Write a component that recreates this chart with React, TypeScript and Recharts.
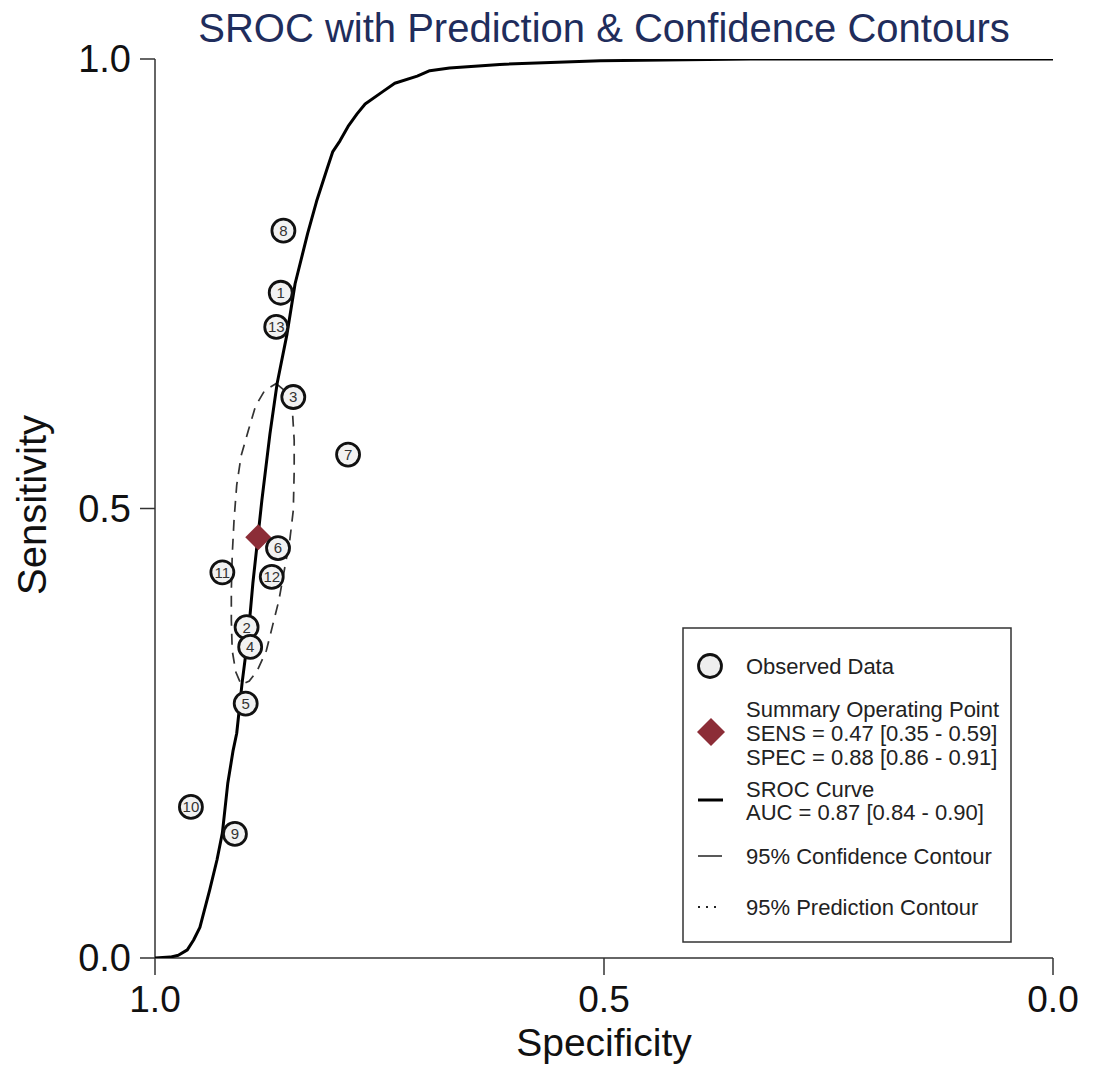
import React from 'react';
import { ScatterChart, Scatter, XAxis, YAxis } from 'recharts';

// ---- data ----
const studyIds = ['1', '2', '3', '4', '5', '6', '7', '8', '9', '10', '11', '12', '13'];
const studySpec = [0.860, 0.898, 0.846, 0.894, 0.899, 0.863, 0.785, 0.857, 0.911, 0.960, 0.925, 0.870, 0.865];
const studySens = [0.740, 0.368, 0.624, 0.346, 0.283, 0.456, 0.560, 0.809, 0.138, 0.168, 0.429, 0.424, 0.702];

const summarySpec = [0.885];
const summarySens = [0.468];

const srocSpec = [1.0, 0.983, 0.974, 0.964, 0.957, 0.950, 0.939, 0.931, 0.925, 0.919, 0.913, 0.909, 0.903, 0.896, 0.891, 0.885, 0.881, 0.872, 0.864, 0.853, 0.844, 0.830, 0.820, 0.808, 0.802, 0.794, 0.785, 0.775, 0.766, 0.746, 0.733, 0.708, 0.694, 0.672, 0.616, 0.504, 0.337, 0.0];
const srocSens = [0.0, 0.001, 0.003, 0.009, 0.020, 0.034, 0.076, 0.109, 0.139, 0.194, 0.231, 0.250, 0.306, 0.361, 0.417, 0.472, 0.509, 0.583, 0.639, 0.694, 0.750, 0.806, 0.842, 0.879, 0.897, 0.909, 0.925, 0.939, 0.950, 0.964, 0.973, 0.981, 0.987, 0.990, 0.994, 0.998, 1.0, 1.0];

const confSpec = [0.865, 0.853, 0.847, 0.845, 0.845, 0.846, 0.850, 0.855, 0.862, 0.869, 0.876, 0.886, 0.895, 0.904, 0.910, 0.914, 0.915, 0.915, 0.914, 0.912, 0.909, 0.904, 0.896, 0.888, 0.878, 0.865];
const confSens = [0.639, 0.629, 0.609, 0.576, 0.542, 0.498, 0.464, 0.437, 0.398, 0.370, 0.342, 0.320, 0.308, 0.304, 0.318, 0.342, 0.376, 0.409, 0.448, 0.487, 0.526, 0.559, 0.587, 0.614, 0.631, 0.639];

const xTicks = [1.0, 0.5, 0.0];
const yTicks = [0.0, 0.5, 1.0];

const titleText = 'SROC with Prediction & Confidence Contours';
const xTitle = 'Specificity';
const yTitle = 'Sensitivity';
const legendLines = {
  observed: 'Observed Data',
  summary: ['Summary Operating Point', 'SENS = 0.47 [0.35 - 0.59]', 'SPEC = 0.88 [0.86 - 0.91]'],
  sroc: ['SROC Curve', 'AUC = 0.87 [0.84 - 0.90]'],
  conf: '95% Confidence Contour',
  pred: '95% Prediction Contour',
};

// ---- tables built from the arrays ----
const studies = studyIds.map((id, i) => ({ id, spec: studySpec[i], sens: studySens[i] }));
const summary = summarySpec.map((s, i) => ({ spec: s, sens: summarySens[i] }));
const sroc = srocSpec.map((s, i) => ({ spec: s, sens: srocSens[i] }));
const conf = confSpec.map((s, i) => ({ spec: s, sens: confSens[i] }));

const FONT = '"Liberation Sans", Arial, sans-serif';
const AXIS = '#333';
const MAROON = '#8c2d37';

const Empty = () => <g />;

const StudyShape = (props: any) => {
  const { cx, cy, payload } = props;
  return (
    <g>
      <circle cx={cx} cy={cy} r={11.5} fill="#f2f2f2" stroke="#111" strokeWidth={2.8} />
      <text x={cx} y={cy} dy="0.36em" textAnchor="middle" fontSize={15} fontFamily={FONT} fill="#333">
        {payload.id}
      </text>
    </g>
  );
};

const DiamondShape = (props: any) => {
  const { cx, cy } = props;
  const h = 13;
  return <polygon points={`${cx},${cy - h} ${cx + h},${cy} ${cx},${cy + h} ${cx - h},${cy}`} fill={MAROON} />;
};

const Overlay = () => {
  const lx = 746;
  const fs = 22;
  return (
    <svg width={1099} height={1065} style={{ position: 'absolute', left: 0, top: 0, pointerEvents: 'none' }}>
      <text x={604} y={42} textAnchor="middle" fontSize={40} fontFamily={FONT} fill="#1f2d5c">{titleText}</text>
      <text x={604} y={1056} textAnchor="middle" fontSize={39} fontFamily={FONT} fill="#111">{xTitle}</text>
      <text x={46} y={505} textAnchor="middle" fontSize={40} fontFamily={FONT} fill="#111" transform="rotate(-90 46 505)">{yTitle}</text>
      <g fontFamily={FONT} fontSize={fs} fill="#222">
        <rect x={683} y={628} width={328} height={314} fill="#fff" stroke={AXIS} strokeWidth={1.5} />
        <circle cx={710} cy={666} r={11.5} fill="#eee" stroke="#111" strokeWidth={2.8} />
        <text x={lx} y={674}>{legendLines.observed}</text>
        <polygon points="711,718 725,732 711,746 697,732" fill={MAROON} />
        <text x={lx} y={717}>{legendLines.summary[0]}</text>
        <text x={lx} y={741}>{legendLines.summary[1]}</text>
        <text x={lx} y={765}>{legendLines.summary[2]}</text>
        <line x1={698} y1={800} x2={723} y2={800} stroke="#000" strokeWidth={3} />
        <text x={lx} y={797}>{legendLines.sroc[0]}</text>
        <text x={lx} y={820}>{legendLines.sroc[1]}</text>
        <line x1={698} y1={856} x2={722} y2={856} stroke="#222" strokeWidth={1.5} />
        <text x={lx} y={864}>{legendLines.conf}</text>
        <line x1={698} y1={907} x2={722} y2={907} stroke="#222" strokeWidth={2} strokeDasharray="2 6" />
        <text x={lx} y={915}>{legendLines.pred}</text>
      </g>
    </svg>
  );
};

export default function App() {
  return (
    <div style={{ position: 'absolute', left: 0, top: 0, width: 1099, height: 1065, background: '#fff' }}>
      <ScatterChart width={1099} height={1065} margin={{ top: 59, right: 46, bottom: 0, left: 0 }}>
        <XAxis
          type="number"
          dataKey="spec"
          domain={[0, 1]}
          reversed
          ticks={xTicks}
          tickFormatter={(v: number) => v.toFixed(1)}
          height={107}
          tickSize={17}
          tickMargin={11}
          stroke={AXIS}
          strokeWidth={1.5}
          tick={{ fontSize: 37, fontFamily: FONT, fill: '#111' }}
          allowDataOverflow
        />
        <YAxis
          type="number"
          dataKey="sens"
          domain={[0, 1]}
          ticks={yTicks}
          tickFormatter={(v: number) => v.toFixed(1)}
          width={155}
          tickSize={15}
          tickMargin={9}
          stroke={AXIS}
          strokeWidth={1.5}
          tick={{ fontSize: 38, fontFamily: FONT, fill: '#111' }}
          allowDataOverflow
        />
        <Scatter
          data={conf}
          shape={Empty}
          line={{ stroke: '#333', strokeWidth: 1.7, strokeDasharray: '11 8' }}
          isAnimationActive={false}
          legendType="none"
        />
        <Scatter
          data={sroc}
          shape={Empty}
          line={{ stroke: '#000', strokeWidth: 3, strokeLinejoin: 'round' }}
          isAnimationActive={false}
          legendType="none"
        />
        <Scatter data={summary} shape={DiamondShape} isAnimationActive={false} legendType="none" />
        <Scatter data={studies} shape={StudyShape} isAnimationActive={false} legendType="none" />
      </ScatterChart>
      <Overlay />
    </div>
  );
}
